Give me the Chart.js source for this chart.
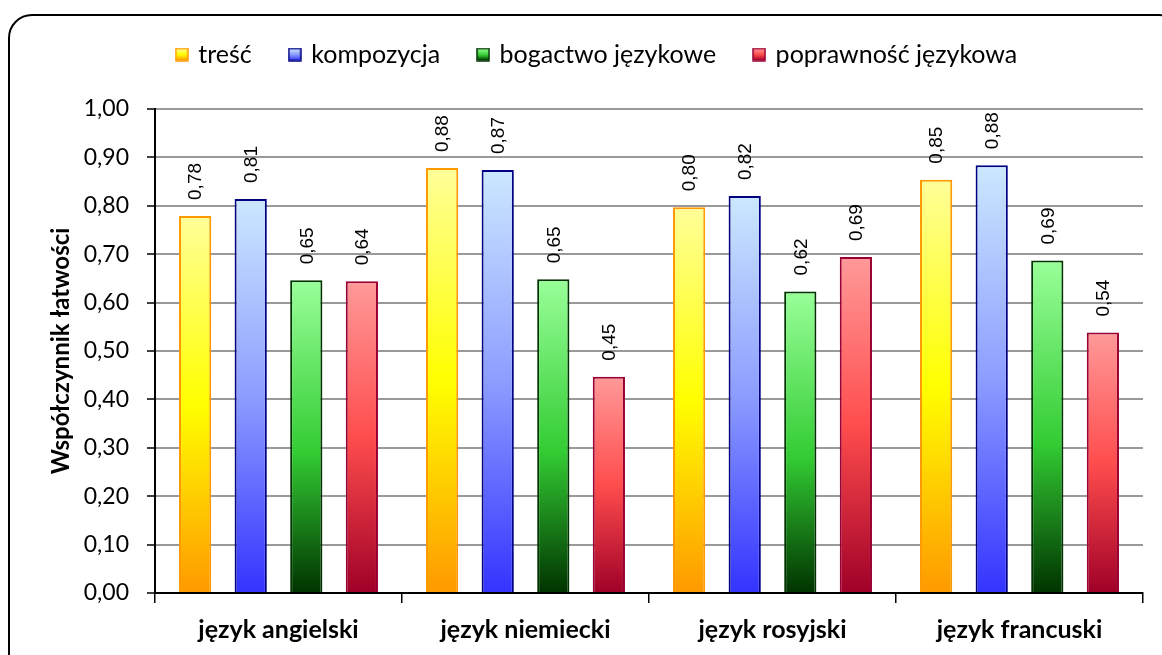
<!DOCTYPE html>
<html>
<head>
<meta charset="utf-8">
<script src="https://cdn.jsdelivr.net/npm/chart.js@4.4.1/dist/chart.umd.min.js"></script>
<style>
  html, body { margin: 0; padding: 0; background: #fff; overflow: hidden; }
  #wrap { position: relative; width: 1162px; height: 655px; overflow: hidden; }
  #frame { position: absolute; left: 8px; top: 14px; width: 1175px; height: 680px;
           border: 2px solid #000; border-radius: 24px; box-sizing: border-box; }
  canvas { position: absolute; left: 0; top: 0; }
</style>
</head>
<body>
<div id="wrap">
  <div id="frame"></div>
  <canvas id="c" width="1162" height="655"></canvas>
</div>
<script>
const categories = ['język angielski', 'język niemiecki', 'język rosyjski', 'język francuski'];
const seriesNames = ['treść', 'kompozycja', 'bogactwo językowe', 'poprawność językowa'];
const tresc = [0.779, 0.878, 0.797, 0.854];
const kompozycja = [0.814, 0.874, 0.820, 0.884];
const bogactwo = [0.646, 0.648, 0.623, 0.687];
const poprawnosc = [0.644, 0.447, 0.694, 0.538];
const yTickValues = [0, 0.1, 0.2, 0.3, 0.4, 0.5, 0.6, 0.7, 0.8, 0.9, 1.0];
const yTitle = 'Współczynnik łatwości';

const palettes = [
  { border: '#ff9900', stops: [[0, '#ffff99'], [0.5, '#ffff00'], [1, '#ff9900']] },
  { border: '#000080', stops: [[0, '#cce8ff'], [0.5, '#8c9dff'], [1, '#3333ff']] },
  { border: '#003300', stops: [[0, '#99ff99'], [0.55, '#33cc33'], [1, '#003300']] },
  { border: '#990033', stops: [[0, '#ff9999'], [0.5, '#ff4d4d'], [1, '#a00028']] }
];
const seriesValues = [tresc, kompozycja, bogactwo, poprawnosc];
const FONT = 'Lato, "Noto Sans", sans-serif';

function gradientFill(stops) {
  return (c) => {
    const chart = c.chart;
    if (!chart.chartArea || c.raw === undefined) return stops[1][1];
    const ys = chart.scales.y;
    const top = ys.getPixelForValue(c.raw);
    const bot = ys.getPixelForValue(0);
    const g = chart.ctx.createLinearGradient(0, top, 0, bot);
    stops.forEach(([o, col]) => g.addColorStop(o, col));
    return g;
  };
}

function legendMarker(p) {
  const cv = document.createElement('canvas');
  cv.width = 14; cv.height = 14;
  const x = cv.getContext('2d');
  const g = x.createLinearGradient(0, 1, 0, 13);
  p.stops.forEach(([o, col]) => g.addColorStop(o, col));
  x.fillStyle = g;
  x.fillRect(1, 1, 12, 12);
  x.strokeStyle = p.border;
  x.lineWidth = 1.5;
  x.strokeRect(1, 1, 12, 12);
  return cv;
}
const markers = palettes.map(legendMarker);

const fmt = (v) => v.toFixed(2).replace('.', ',');

const dataLabels = {
  id: 'dataLabels',
  afterDatasetsDraw(chart) {
    const ctx = chart.ctx;
    ctx.save();
    ctx.font = '19px "Liberation Sans", Arial, sans-serif';
    ctx.fillStyle = '#000';
    ctx.textAlign = 'left';
    ctx.textBaseline = 'middle';
    chart.data.datasets.forEach((ds, di) => {
      const meta = chart.getDatasetMeta(di);
      meta.data.forEach((el, i) => {
        ctx.save();
        ctx.translate(el.x + 1, el.y - 16);
        ctx.rotate(-Math.PI / 2);
        ctx.fillText(fmt(ds.data[i]), 0, 0);
        ctx.restore();
      });
    });
    ctx.restore();
  }
};

// spacer box between legend and plot area
const spacer = {
  id: 'spacer',
  beforeInit(chart) {
    Chart.layouts.addBox(chart, {
      position: 'top', weight: 0, fullSize: true, options: {},
      left: 0, top: 0, right: 0, bottom: 0, width: 0, height: 0,
      isHorizontal() { return true; },
      update(maxWidth) { this.width = maxWidth; this.height = 32; },
      draw() {}
    });
  },
  afterLayout(chart) {
    if (chart.legend) { chart.legend.left += 16; chart.legend.right += 16; }
  }
};

new Chart(document.getElementById('c'), {
  type: 'bar',
  data: {
    labels: categories,
    datasets: seriesNames.map((n, i) => ({
      label: n,
      data: seriesValues[i],
      backgroundColor: gradientFill(palettes[i].stops),
      borderColor: palettes[i].border,
      borderWidth: 2,
      borderSkipped: 'bottom',
      categoryPercentage: 0.9,
      barPercentage: 0.58
    }))
  },
  options: {
    responsive: false,
    animation: false,
    layout: { padding: { left: 20, right: 19, top: 3, bottom: 12 } },
    plugins: {
      tooltip: { enabled: false },
      legend: {
        position: 'top',
        labels: {
          usePointStyle: true,
          pointStyleWidth: 8,
          boxHeight: 13,
          padding: 39,
          color: '#000',
          font: { family: FONT, size: 25 },
          generateLabels: (chart) => chart.data.datasets.map((ds, i) => ({
            text: ds.label,
            pointStyle: markers[i],
            fillStyle: palettes[i].border,
            strokeStyle: palettes[i].border,
            lineWidth: 0,
            hidden: false,
            datasetIndex: i,
            fontColor: '#000'
          }))
        }
      }
    },
    scales: {
      x: {
        offset: true,
        grid: { display: true, drawOnChartArea: false, offset: true, color: '#000', tickLength: 10, lineWidth: 1.5 },
        border: { color: '#000', width: 2 },
        ticks: {
          color: '#000', padding: 12,
          font: { family: FONT, size: 25, weight: 'bold' }
        },
        afterFit: (s) => { s.height = 50; }
      },
      y: {
        min: 0, max: 1,
        afterBuildTicks: (s) => { s.ticks = yTickValues.map(v => ({ value: v })); },
        grid: { color: '#999', lineWidth: 2, tickColor: '#000', tickLength: 8, tickWidth: 1.5 },
        border: { color: '#000', width: 2 },
        ticks: {
          color: '#000', padding: 18,
          font: { family: FONT, size: 23 },
          callback: (v) => fmt(v)
        },
        title: {
          display: true, text: yTitle, color: '#000', padding: { top: 27, bottom: 0 },
          font: { family: FONT, size: 24, weight: 'bold' }
        },
        afterFit: (s) => { s.width = 135; }
      }
    }
  },
  plugins: [spacer, dataLabels]
});
</script>
</body>
</html>
